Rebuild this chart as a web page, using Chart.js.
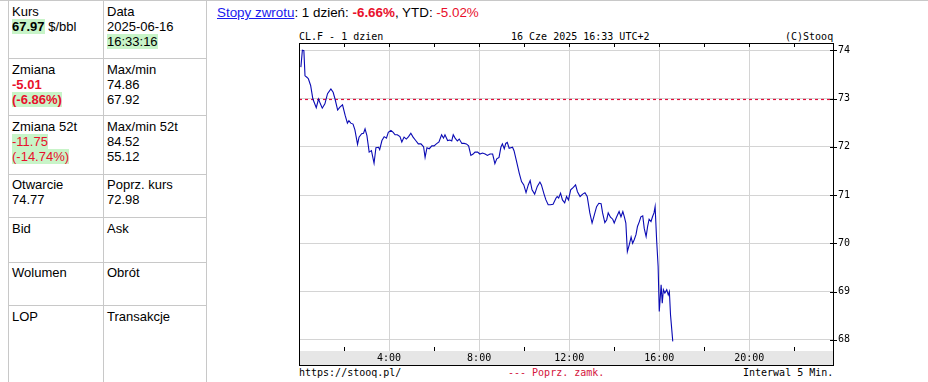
<!DOCTYPE html>
<html>
<head>
<meta charset="utf-8">
<script src="https://cdn.jsdelivr.net/npm/chart.js@4.4.1/dist/chart.umd.min.js"></script>
<style>
  body { margin:0; width:928px; height:382px; overflow:hidden; background:#fff; position:relative;
         font-family: Arial, "Liberation Sans", sans-serif; font-size:13px; color:#000; }
  .ln { position:absolute; background:#c8c8c8; }
  .cell { position:absolute; line-height:15px; white-space:nowrap; }
  .g { background:#c8f4c8; }
  .red { color:#e8102c; }
  .b { font-weight:bold; }
  .mono { position:absolute; font-family:"DejaVu Sans Mono", monospace; font-size:10px; line-height:12px; white-space:nowrap; }
  #head { position:absolute; left:217px; top:5px; font-size:13.4px; line-height:16px; white-space:nowrap; }
  #head a { color:#1a1aee; text-decoration:underline; }
  #wrap { position:absolute; left:210px; top:24px; width:718px; height:358px; }
</style>
</head>
<body>

<!-- left info table -->
<div class="ln" style="left:0;top:0;width:928px;height:1px"></div>
<div class="ln" style="left:8px;top:0;width:1px;height:382px"></div>
<div class="ln" style="left:103px;top:0;width:1px;height:382px"></div>
<div class="ln" style="left:206px;top:0;width:1px;height:382px"></div>
<div class="ln" style="left:8px;top:58px;width:199px;height:1px"></div>
<div class="ln" style="left:8px;top:115px;width:199px;height:1px"></div>
<div class="ln" style="left:8px;top:174px;width:199px;height:1px"></div>
<div class="ln" style="left:8px;top:217px;width:199px;height:1px"></div>
<div class="ln" style="left:8px;top:262px;width:199px;height:1px"></div>
<div class="ln" style="left:8px;top:305px;width:199px;height:1px"></div>

<div class="cell" style="left:12px;top:4px">Kurs<br><span class="b g">67.97</span> $/bbl</div>
<div class="cell" style="left:107px;top:4px">Data<br>2025-06-16<br><span class="g">16:33:16</span></div>
<div class="cell" style="left:12px;top:62px">Zmiana<br><span class="b red">-5.01</span><br><span class="b red g">(-6.86%)</span></div>
<div class="cell" style="left:107px;top:62px">Max/min<br>74.86<br>67.92</div>
<div class="cell" style="left:12px;top:119px">Zmiana 52t<br><span class="red g">-11.75</span><br><span class="red g">(-14.74%)</span></div>
<div class="cell" style="left:107px;top:119px">Max/min 52t<br>84.52<br>55.12</div>
<div class="cell" style="left:12px;top:177px">Otwarcie<br>74.77</div>
<div class="cell" style="left:107px;top:177px">Poprz. kurs<br>72.98</div>
<div class="cell" style="left:12px;top:221px">Bid</div>
<div class="cell" style="left:107px;top:221px">Ask</div>
<div class="cell" style="left:12px;top:265px">Wolumen</div>
<div class="cell" style="left:107px;top:265px">Obrót</div>
<div class="cell" style="left:12px;top:309px">LOP</div>
<div class="cell" style="left:107px;top:309px">Transakcje</div>

<div id="head"><a>Stopy zwrotu</a>: 1 dzień: <span class="b red">-6.66%</span>, YTD: <span class="red">-5.02%</span></div>

<div class="mono" style="left:299px;top:31px">CL.F - 1 dzien</div>
<div class="mono" style="left:511px;top:31px">16 Cze 2025 16:33 UTC+2</div>
<div class="mono" style="left:785px;top:31px">(C)Stooq</div>

<div class="mono" style="left:299px;top:367px">https://stooq.pl/</div>
<div class="mono" style="left:508px;top:367px;color:#d4143c">--- Poprz. zamk.</div>
<div class="mono" style="left:743px;top:367px">Interwal 5 Min.</div>

<div id="wrap"><canvas id="chart" width="718" height="358"></canvas></div>

<script>
// minutes after midnight (UTC+2) and price in $/bbl
const minutes = [5, 9, 13, 16, 21, 25, 31, 37, 46, 52, 57, 62, 69, 76, 85, 91, 96, 103, 109, 116,
  123, 129, 133, 138, 144, 149, 156, 160, 167, 172, 176, 181, 187, 193, 200, 205, 212, 215, 221, 227,
  233, 238, 245, 251, 256, 262, 269, 274, 280, 286, 292, 298, 304, 311, 318, 325, 332, 336, 341, 347,
  354, 360, 366, 373, 380, 385, 389, 396, 402, 407, 411, 416, 422, 427, 434, 440, 446, 452, 458, 464,
  469, 476, 482, 489, 496, 502, 509, 516, 522, 527, 533, 538, 542, 547, 551, 555, 560, 569, 573, 580,
  587, 593, 599, 605, 611, 616, 621, 628, 635, 642, 646, 653, 658, 664, 670, 677, 685, 688, 692, 697,
  702, 708, 713, 718, 724, 731, 737, 742, 749, 756, 762, 768, 775, 781, 787, 793, 799, 805, 809, 815,
  820, 824, 830, 836, 840, 846, 853, 858, 863, 867, 871, 875, 880, 885, 889, 893, 898, 902, 907, 911,
  916, 920, 925, 929, 933, 938, 942, 946, 949, 953, 957, 960, 965, 968, 971, 975, 980, 984, 987, 990,
  996];
const prices = [73.65, 74.00, 73.99, 73.47, 73.44, 73.41, 73.27, 72.99, 72.81, 72.99, 72.89, 72.80, 72.89, 73.10, 73.20, 73.13, 72.99, 72.76, 72.82, 72.87,
  72.65, 72.49, 72.54, 72.49, 72.47, 72.35, 72.05, 72.20, 72.27, 72.28, 72.37, 72.23, 71.89, 71.92, 71.66, 71.98, 71.99, 71.94, 72.13, 72.21,
  72.18, 72.30, 72.34, 72.30, 72.25, 72.25, 72.21, 72.10, 72.20, 72.16, 72.21, 72.28, 72.20, 72.13, 72.06, 72.06, 72.00, 71.78, 71.98, 71.96,
  72.02, 72.02, 72.06, 72.10, 72.25, 72.18, 72.25, 72.13, 72.14, 72.12, 72.25, 72.18, 72.12, 72.16, 72.07, 72.07, 72.06, 72.02, 71.82, 71.85,
  71.89, 71.89, 71.85, 71.87, 71.85, 71.82, 71.85, 71.85, 71.65, 71.75, 71.78, 71.99, 72.06, 71.96, 72.07, 72.09, 71.97, 71.99, 71.92, 71.69,
  71.45, 71.28, 71.21, 71.05, 71.21, 71.30, 71.11, 71.02, 71.18, 71.27, 71.21, 71.02, 70.90, 70.80, 70.80, 70.81, 70.94, 70.97, 70.94, 71.04,
  70.90, 70.84, 70.97, 70.90, 71.11, 71.16, 71.21, 71.07, 70.97, 71.02, 71.05, 70.97, 70.63, 70.42, 70.59, 70.76, 70.83, 70.82, 70.63, 70.43,
  70.49, 70.63, 70.54, 70.50, 70.42, 70.54, 70.66, 70.55, 70.66, 70.55, 70.42, 69.83, 69.97, 70.13, 70.00, 70.07, 70.18, 70.35, 70.45, 70.55,
  70.57, 70.31, 70.14, 70.35, 70.50, 70.45, 70.55, 70.63, 70.76, 70.07, 69.52, 68.59, 69.14, 68.76, 69.04, 68.97, 69.04, 68.93, 69.00, 68.52,
  67.97];
const prevClose = 72.98;
const yTicks = [68, 69, 70, 71, 72, 73, 74];
const hourTicks = [120, 240, 360, 480, 600, 720, 840, 960, 1080, 1200, 1320];
const dayEnd = 1423;

const frame = {
  id: 'frame',
  beforeDraw(chart) {
    const { ctx, chartArea: a } = chart;
    ctx.save();
    ctx.fillStyle = '#e6e6e6';
    ctx.fillRect(a.left, a.bottom, a.right - a.left, 14);
    ctx.restore();
  },
  afterDraw(chart) {
    const { ctx, chartArea: a, scales } = chart;
    const xs = scales.x, ys = scales.y;
    ctx.save();
    ctx.strokeStyle = '#000';
    ctx.lineWidth = 1;
    ctx.strokeRect(a.left + 0.5, a.top + 0.5, a.right - a.left, a.bottom - a.top + 14);
    ctx.beginPath();
    hourTicks.forEach(t => {
      const px = Math.round(xs.getPixelForValue(t)) + 0.5;
      ctx.moveTo(px, a.top);
      ctx.lineTo(px, a.top + 4);
      if (t % 240 !== 0) {
        ctx.moveTo(px, a.bottom);
        ctx.lineTo(px, a.bottom - 4);
      }
    });
    yTicks.forEach(v => {
      const py = Math.round(ys.getPixelForValue(v)) + 0.5;
      ctx.moveTo(a.right - 3, py);
      ctx.lineTo(a.right + 4, py);
    });
    ctx.stroke();
    ctx.restore();
  }
};

new Chart(document.getElementById('chart'), {
  type: 'line',
  data: {
    datasets: [
      {
        data: minutes.map((m, i) => ({ x: m, y: prices[i] })),
        borderColor: '#0a0ab4',
        borderWidth: 1.1,
        pointRadius: 0,
        tension: 0
      },
      {
        data: [{ x: 0, y: prevClose }, { x: dayEnd, y: prevClose }],
        borderColor: '#e0103c',
        borderWidth: 1.2,
        borderDash: [3, 3],
        pointRadius: 0
      }
    ]
  },
  options: {
    responsive: false,
    animation: false,
    devicePixelRatio: 1,
    layout: { padding: { left: 89, top: 19, right: 0, bottom: 0 } },
    plugins: { legend: { display: false }, tooltip: { enabled: false } },
    scales: {
      x: {
        type: 'linear',
        min: 0,
        max: dayEnd,
        afterFit: s => { s.height = 31; },
        afterBuildTicks: s => { s.ticks = hourTicks.map(v => ({ value: v })); },
        border: { display: false },
        grid: {
          drawTicks: false,
          color: c => (c.tick && c.tick.value % 240 === 0) ? '#d4d4d4' : 'rgba(0,0,0,0)'
        },
        ticks: {
          autoSkip: false,
          maxRotation: 0,
          padding: 1,
          color: '#000',
          font: { family: 'DejaVu Sans Mono', size: 10 },
          callback: v => v % 240 === 0 ? (v / 60) + ':00' : ''
        }
      },
      y: {
        position: 'right',
        min: 67.77,
        max: 74.15,
        afterFit: s => { s.width = 95; },
        afterBuildTicks: s => { s.ticks = yTicks.map(v => ({ value: v })); },
        border: { display: false },
        grid: { drawTicks: false, color: '#d4d4d4' },
        ticks: {
          padding: 5,
          color: '#000',
          font: { family: 'DejaVu Sans Mono', size: 10 }
        }
      }
    }
  },
  plugins: [frame]
});
</script>
</body>
</html>
